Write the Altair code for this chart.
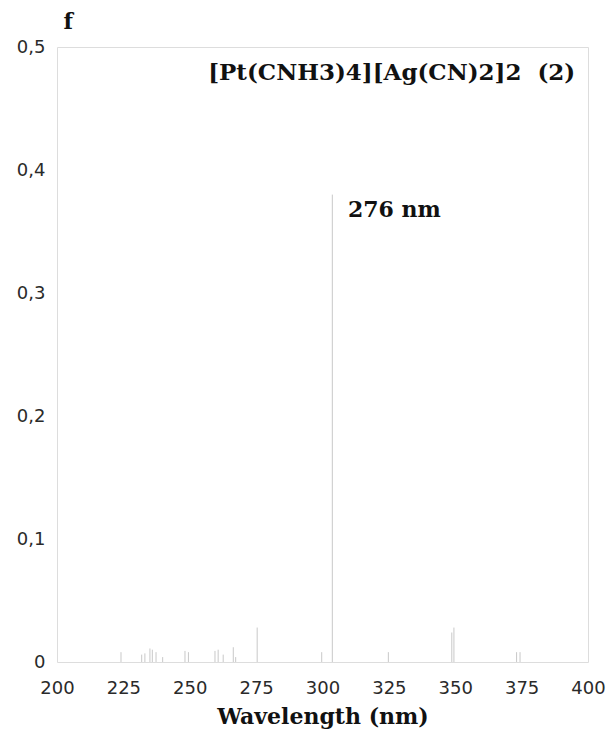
import altair as alt
import pandas as pd

# Oscillator-strength stick spectrum
wavelengths = [224.1, 231.9, 233.1, 235.0, 235.9, 237.3, 239.8, 248.2, 249.5,
               259.5, 260.7, 262.6, 266.4, 267.3, 275.4, 299.7, 303.7, 324.8,
               348.7, 349.5, 373.1, 374.4]
strengths = [0.008, 0.006, 0.007, 0.011, 0.010, 0.008, 0.004, 0.009, 0.008,
             0.009, 0.010, 0.006, 0.012, 0.004, 0.028, 0.008, 0.380, 0.008,
             0.024, 0.028, 0.008, 0.008]

x_ticks = [200, 225, 250, 275, 300, 325, 350, 375, 400]
y_ticks = [0, 0.1, 0.2, 0.3, 0.4, 0.5]

label_texts = ["[Pt(CNH3)4][Ag(CN)2]2\u00a0\u00a0(2)", "276\u00a0nm"]
label_x = [395.2, 309.6]
label_y = [0.479, 0.3675]
label_align = ["right", "left"]

df = pd.DataFrame({"wl": wavelengths, "f": strengths})
ann = pd.DataFrame({"text": label_texts, "wl": label_x, "f": label_y, "align": label_align})

SERIF = "DejaVu Serif"
SANS = "DejaVu Sans"

xs = alt.Scale(domain=[200, 400], nice=False, zero=False)
ys = alt.Scale(domain=[0, 0.5], nice=False)

sticks = alt.Chart(df).mark_rule(color="#c8c8c8", strokeWidth=1).encode(
    x=alt.X("wl:Q", scale=xs,
            axis=alt.Axis(values=x_ticks, title="Wavelength (nm)", grid=False,
                          domain=False, ticks=False, labelFontSize=18,
                          labelFont=SANS, labelColor="#2a2a2a",
                          labelPadding=17, labelFlush=False,
                          titleFont=SERIF, titleFontSize=22,
                          titleFontWeight="bold", titleColor="#111",
                          titlePadding=9)),
    y=alt.Y("f:Q", scale=ys,
            axis=alt.Axis(values=y_ticks, title="f", grid=False, domain=False,
                          ticks=False, labelFontSize=18,
                          labelFont=SANS, labelColor="#2a2a2a",
                          labelPadding=12,
                          labelExpr="datum.value == 0 ? '0' : replace(format(datum.value, '.1f'), '.', ',')",
                          titleAngle=0, titleAlign="left", titleBaseline="alphabetic",
                          titleX=6, titleY=-19, titleFont=SERIF,
                          titleFontSize=22, titleFontWeight="bold", titleColor="#111")),
    y2=alt.Y2(datum=0),
)

right_text = alt.Chart(ann[ann["align"] == "right"]).mark_text(
    align="right", baseline="middle", font=SERIF, fontSize=23,
    fontWeight="bold", color="#111"
).encode(x=alt.X("wl:Q", scale=xs), y=alt.Y("f:Q", scale=ys), text="text:N")

left_text = alt.Chart(ann[ann["align"] == "left"]).mark_text(
    align="left", baseline="middle", font=SERIF, fontSize=22,
    fontWeight="bold", color="#111"
).encode(x=alt.X("wl:Q", scale=xs), y=alt.Y("f:Q", scale=ys), text="text:N")

chart = alt.layer(sticks, right_text, left_text).properties(
    width=531, height=615, autosize=alt.AutoSizeParams(type="none"),
    padding={"left": 57, "top": 47, "right": 25, "bottom": 72}
).configure_view(stroke="#dddddd", strokeWidth=1).configure(background="white")

chart.save("out.html", embed_options={"renderer": "svg", "actions": False})
